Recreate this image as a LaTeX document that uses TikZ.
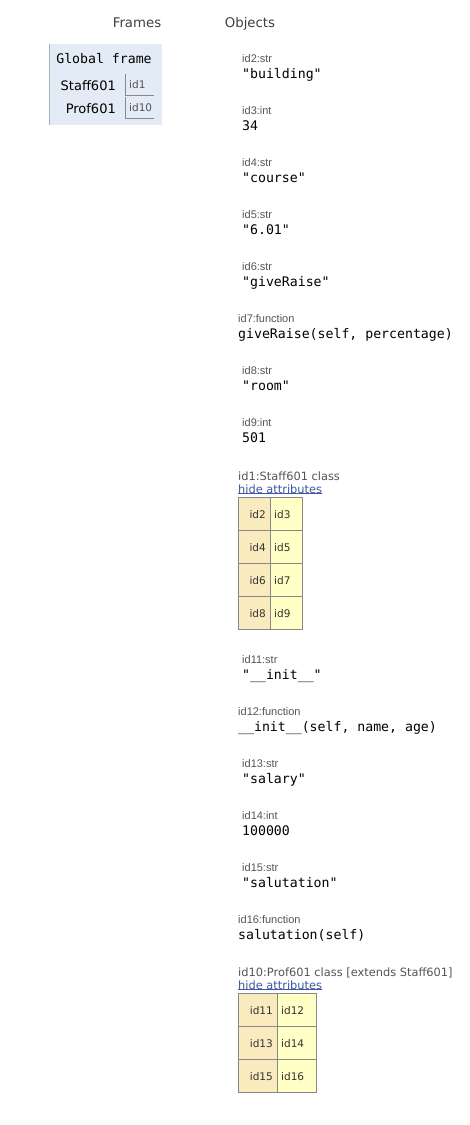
\documentclass[tikz,border=0pt]{standalone}
\usepackage{fontspec}
\setmainfont{DejaVu Sans}
\setmonofont{DejaVu Sans Mono}
\newfontfamily\typefont{Liberation Sans}
\definecolor{framebg}{HTML}{E2EBF6}
\definecolor{frameline}{HTML}{A6B3B6}
\definecolor{keybg}{HTML}{FAEBBF}
\definecolor{valbg}{HTML}{FFFFC6}
\definecolor{cellline}{HTML}{888888}
\definecolor{typegray}{HTML}{555555}
\definecolor{linkblue}{HTML}{3D58A2}
\tikzset{
  txt/.style={inner sep=0pt, font=\fontsize{10.5}{12}\selectfont, text=black!80},
  typelbl/.style={inner sep=0pt, anchor=base west, font=\typefont\fontsize{11}{13}\selectfont, text=typegray},
  vallbl/.style={inner sep=0pt, anchor=base west, font=\ttfamily\fontsize{13.2}{15}\selectfont},
  classlbl/.style={inner sep=0pt, anchor=base west, font=\fontsize{11.4}{13}\selectfont, text=typegray},
  linklbl/.style={inner sep=0pt, anchor=base west, font=\fontsize{11.4}{13}\selectfont, text=linkblue},
}
\begin{document}
\begin{tikzpicture}[x=1pt,y=-1pt]
  \useasboundingbox[fill=white] (0,0) rectangle (470,1125);

  % headers
  \node[txt, anchor=base, font=\fontsize{13.3}{15}\selectfont, text=black!75] (hframes) at (137,27) {Frames};
  \node[txt, anchor=base, font=\fontsize{13.3}{15}\selectfont, text=black!75] (hobjects) at (250,27) {Objects};

  % global frame
  \fill[framebg] (49,44) rectangle (162,125);
  \draw[frameline] (49.5,44) -- (49.5,125);
  \node[inner sep=0pt, anchor=base, font=\ttfamily\fontsize{13.2}{15}\selectfont] (gframe) at (104,63) {Global frame};
  \node[inner sep=0pt, anchor=base east, font=\fontsize{13}{15}\selectfont] (vstaff) at (116,90) {Staff601};
  \draw[cellline] (125.5,74) -- (125.5,95.5) -- (154,95.5);
  \node[txt, anchor=base west, text=typegray] (pstaff) at (129,88) {id1};
  \node[inner sep=0pt, anchor=base east, font=\fontsize{13}{15}\selectfont] (vprof) at (116,113) {Prof601};
  \draw[cellline] (125.5,97) -- (125.5,118.5) -- (154,118.5);
  \node[txt, anchor=base west, text=typegray] (pprof) at (129,111) {id10};

  % objects
  \foreach \n/\x/\y/\lbl/\val in {
      2/242/62/id2:str/{"building"},
      3/242/114/id3:int/{34},
      4/242/166/id4:str/{"course"},
      5/242/218/id5:str/{"6.01"},
      6/242/270/id6:str/{"giveRaise"},
      7/238/322/id7:function/{giveRaise(self, percentage)},
      8/242/374/id8:str/{"room"},
      9/242/426/id9:int/{501},
      11/242/663/id11:str/{"\_\_init\_\_"},
      12/238/715/id12:function/{\_\_init\_\_(self, name, age)},
      13/242/767/id13:str/{"salary"},
      14/242/819/id14:int/{100000},
      15/242/871/id15:str/{"salutation"},
      16/238/923/id16:function/{salutation(self)}} {
    \node[typelbl] (type\n) at (\x,\y) {\lbl};
    \node[vallbl] (obj\n) at (\x,\y+16) {\val};
  }

  % Staff601 class
  \node[classlbl] (cls1) at (238,480) {id1:Staff601 class};
  \node[linklbl] (hide1) at (238,493) {hide attributes};
  \draw[linkblue, line width=0.6pt] ([yshift=0.5pt]hide1.south west) -- ([yshift=0.5pt]hide1.south east);
  \foreach \k/\v [count=\r from 0] in {2/3,4/5,6/7,8/9} {
    \draw[cellline, fill=keybg] (238.5,497.5+33*\r) rectangle (270.5,530.5+33*\r);
    \draw[cellline, fill=valbg] (270.5,497.5+33*\r) rectangle (302.5,530.5+33*\r);
    \node[txt, anchor=base east] (akey\k) at (266,518+33*\r) {id\k};
    \node[txt, anchor=base west] (aval\v) at (274,518+33*\r) {id\v};
  }

  % Prof601 class
  \node[classlbl] (cls10) at (238,976) {id10:Prof601 class [extends Staff601]};
  \node[linklbl] (hide10) at (238,989) {hide attributes};
  \draw[linkblue, line width=0.6pt] ([yshift=0.5pt]hide10.south west) -- ([yshift=0.5pt]hide10.south east);
  \foreach \k/\v [count=\r from 0] in {11/12,13/14,15/16} {
    \draw[cellline, fill=keybg] (238.5,993.5+33*\r) rectangle (277.5,1026.5+33*\r);
    \draw[cellline, fill=valbg] (277.5,993.5+33*\r) rectangle (316.5,1026.5+33*\r);
    \node[txt, anchor=base east] (bkey\k) at (273,1014+33*\r) {id\k};
    \node[txt, anchor=base west] (bval\v) at (281,1014+33*\r) {id\v};
  }
\end{tikzpicture}
\end{document}
